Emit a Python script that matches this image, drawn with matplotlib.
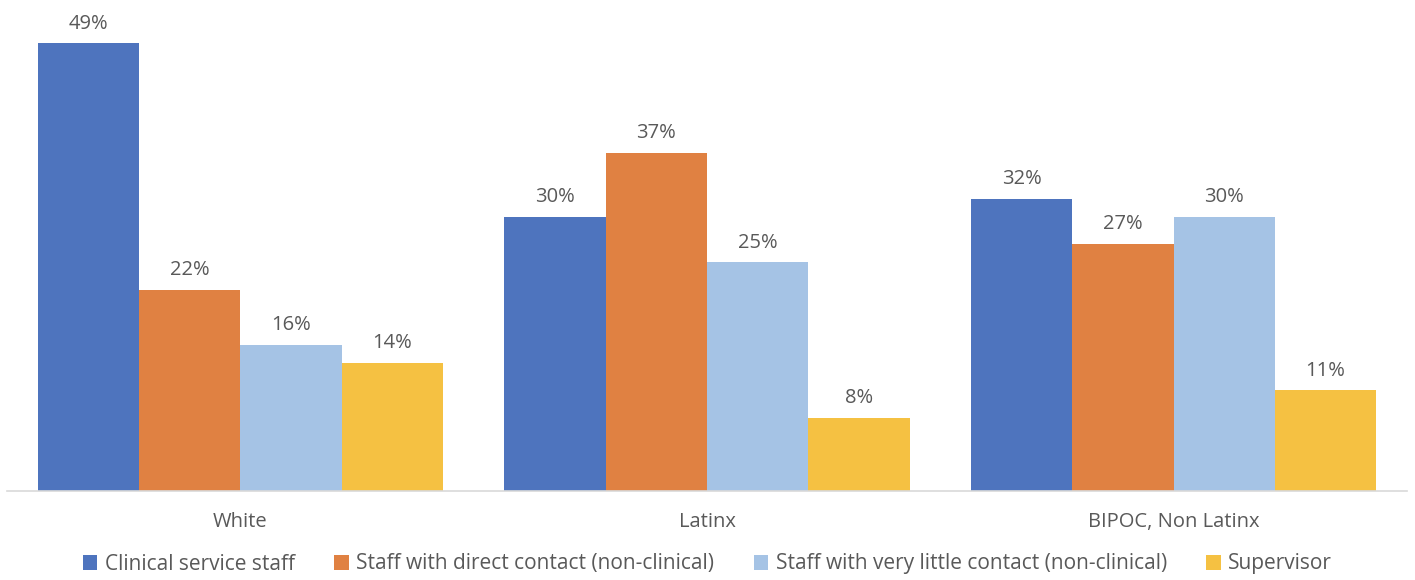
import numpy as np
import matplotlib
matplotlib.use('Agg')
import matplotlib.pyplot as plt
from matplotlib.patches import Patch

# Data (percent)
groups = ['White', 'Latinx', 'BIPOC, Non Latinx']
series = ['Clinical service staff',
          'Staff with direct contact (non-clinical)',
          'Staff with very little contact (non-clinical)',
          'Supervisor']
clinical = [49, 30, 32]
direct = [22, 37, 27]
little = [16, 25, 30]
supervisor = [14, 8, 11]
colors = ['#4E74BE', '#E08142', '#A5C3E5', '#F5C142']

plt.rcParams['font.family'] = ['Open Sans', 'DejaVu Sans']
text_col = '#595959'
fs = 14.5

fig = plt.figure(figsize=(14.15, 5.8), dpi=100)
ax = fig.add_axes([7 / 1415, 1 - 490.7 / 580, 1400 / 1415, 490.7 / 580])

x = np.arange(len(groups))
width = 0.217
values = [clinical, direct, little, supervisor]
for i, (vals, col) in enumerate(zip(values, colors)):
    pos = x + (i - 1.5) * width
    bars = ax.bar(pos, vals, width, color=col, label=series[i])
    for b, v in zip(bars, vals):
        ax.annotate(f'{v}%', (b.get_x() + b.get_width() / 2, v),
                    xytext=(0, 7), textcoords='offset points',
                    ha='center', va='bottom', fontsize=fs, color=text_col)

ax.set_xlim(-0.5, len(groups) - 0.5)
ax.set_ylim(0, 53.75)
for s in ['top', 'right', 'left']:
    ax.spines[s].set_visible(False)
ax.spines['bottom'].set_color('#d9d9d9')
ax.spines['bottom'].set_linewidth(1.2)
ax.set_yticks([])
ax.set_xticks(x)
ax.set_xticklabels(groups, fontsize=fs, color=text_col)
ax.tick_params(axis='x', length=0, pad=15)

handles = [Patch(facecolor=c) for c in colors]
fig.legend(handles, series, loc='center', bbox_to_anchor=(0.5, 1 - 564 / 580),
           ncol=4, frameon=False, fontsize=15, handlelength=0.7,
           handleheight=0.7, handletextpad=0.35, columnspacing=1.9,
           labelcolor=text_col)

fig.savefig('out.png', dpi=100)
